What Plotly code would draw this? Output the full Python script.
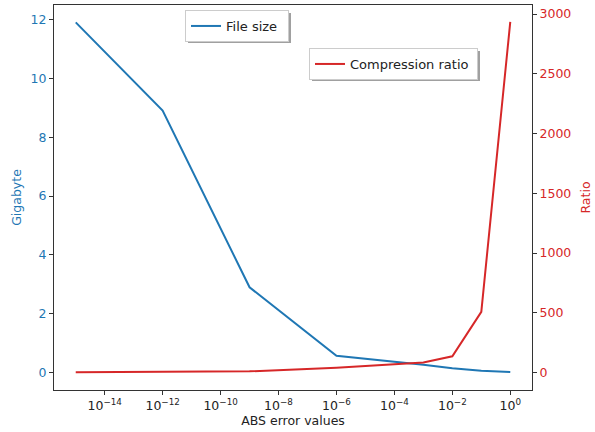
import plotly.graph_objects as go

abs_error = [1e-15, 1e-12, 1e-9, 1e-6, 1e-3, 1e-2, 1e-1, 1e0]
file_size_gb = [11.9, 8.9, 2.9, 0.57, 0.27, 0.15, 0.06, 0.02]
compression_ratio = [2.5, 3.3, 10, 40, 84, 136, 508, 2935]

x_tickvals = [1e-14, 1e-12, 1e-10, 1e-8, 1e-6, 1e-4, 1e-2, 1e0]
x_ticktext = ["10<sup>\u221214</sup>", "10<sup>\u221212</sup>", "10<sup>\u221210</sup>",
              "10<sup>\u22128</sup>", "10<sup>\u22126</sup>", "10<sup>\u22124</sup>",
              "10<sup>\u22122</sup>", "10<sup>0</sup>"]
y1_ticks = [0, 2, 4, 6, 8, 10, 12]
y2_ticks = [0, 500, 1000, 1500, 2000, 2500, 3000]

BLUE = "#1f77b4"
RED = "#d62728"
FONT = "DejaVu Sans"
FS = 12.5

fig = go.Figure()
fig.add_trace(go.Scatter(x=abs_error, y=file_size_gb, mode="lines", name="File size",
                         line=dict(color=BLUE, width=2), legend="legend"))
fig.add_trace(go.Scatter(x=abs_error, y=compression_ratio, mode="lines", name="Compression ratio",
                         line=dict(color=RED, width=2), yaxis="y2", legend="legend2"))

L, R, T, B = 54, 63, 5, 42
W, H = 595, 432
pw, ph = W - L - R, H - T - B

def px2paper(x, y):
    return (x - L) / pw, (H - B - y) / ph

axis_common = dict(showline=True, linecolor="#333", linewidth=1, ticks="outside",
                   ticklen=4, tickcolor="#333", showgrid=False, zeroline=False)

# legend boxes (left, top, right, bottom) in pixels
boxes = [(185, 10, 288, 40), (309, 48, 477, 78)]
shapes = []
for (x0, y0, x1, y1) in boxes:
    a0, b0 = px2paper(x0 + 3, y1 + 3)
    a1, b1 = px2paper(x1 + 3, y0 + 3)
    shapes.append(dict(type="rect", xref="paper", yref="paper", x0=a0, y0=b0, x1=a1, y1=b1,
                       fillcolor="#a0a0a0", line=dict(width=0), layer="below"))

lx1, ly1 = px2paper(boxes[0][0], boxes[0][1])
lx2, ly2 = px2paper(boxes[1][0], boxes[1][1])

fig.update_layout(
    width=W, height=H, margin=dict(l=L, r=R, t=T, b=B),
    paper_bgcolor="white", plot_bgcolor="rgba(0,0,0,0)",
    font=dict(family=FONT, size=FS, color="#222"),
    showlegend=True,
    xaxis=dict(type="log", range=[-15.75, 0.75], tickvals=x_tickvals, ticktext=x_ticktext,
               mirror=True, title=dict(text="ABS error values", standoff=3,
                                       font=dict(size=FS, color="#222")),
               tickfont=dict(size=FS, color="#222"), **axis_common),
    yaxis=dict(range=[-0.59, 12.49], tickvals=y1_ticks, tickfont=dict(color=BLUE, size=FS),
               title=dict(text="Gigabyte", font=dict(color=BLUE, size=FS), standoff=6),
               **axis_common),
    yaxis2=dict(range=[-146, 3076], tickvals=y2_ticks, overlaying="y", side="right",
                tickfont=dict(color=RED, size=FS),
                title=dict(text="Ratio", font=dict(color=RED, size=FS), standoff=10),
                **axis_common),
    legend=dict(x=lx1, y=ly1, xanchor="left", yanchor="top", bgcolor="white",
                orientation="h", entrywidth=57,
                bordercolor="#ccc", borderwidth=1, font=dict(size=13, color="#222")),
    legend2=dict(x=lx2, y=ly2, xanchor="left", yanchor="top", bgcolor="white",
                 orientation="h", entrywidth=122,
                 bordercolor="#ccc", borderwidth=1, font=dict(size=13, color="#222")),
    shapes=shapes,
)

fig.write_html("out.html")
